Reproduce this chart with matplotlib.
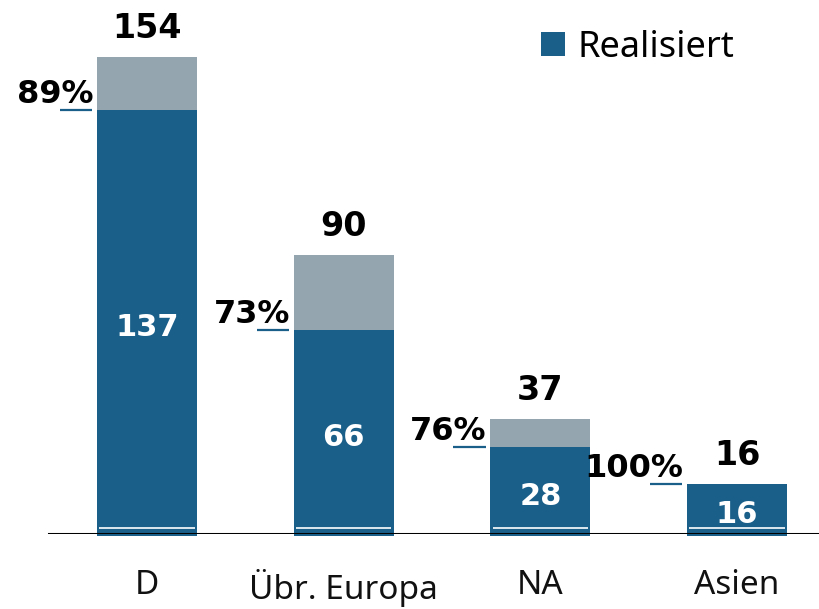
import matplotlib
matplotlib.use("Agg")
import matplotlib.pyplot as plt

regions = ["D", "Übr. Europa", "NA", "Asien"]
total = [154, 90, 37, 16]
realised = [137, 66, 28, 16]
share = ["89%", "73%", "76%", "100%"]

blue = "#1a5f8a"
grey = "#94a5af"
num_font = "DejaVu Sans"

fig = plt.figure(figsize=(8.2, 6.09), dpi=100)
ax = fig.add_axes([0, 75 / 609, 1, 534 / 609])

x = list(range(len(regions)))
w = 0.508
sink = 0.6  # bars poke a little below the baseline

ax.bar(x, [t + sink for t in total], w, bottom=-sink, color=grey, clip_on=False, zorder=2)
ax.bar(x, [r + sink for r in realised], w, bottom=-sink, color=blue, clip_on=False,
       zorder=3, label="Realisiert")

# thin white line near the foot of each bar
ax.hlines([2.0] * len(x), [i - w / 2 + 0.012 for i in x], [i + w / 2 - 0.012 for i in x],
          color="white", lw=1.2, zorder=4)

ax.axhline(0, xmin=49 / 820, xmax=1, color="black", lw=2.2, zorder=5)

for i in x:
    # total on top
    ax.annotate(str(total[i]), (i, total[i]), xytext=(0, 14), textcoords="offset points",
                ha="center", va="baseline", fontsize=24, fontweight="bold",
                family=num_font, color="black")
    # realised value inside
    ax.annotate(str(realised[i]), (i, realised[i] / 2), xytext=(0, -4),
                textcoords="offset points", ha="center", va="center",
                fontsize=22, fontweight="bold", family=num_font, color="white", zorder=6)
    # share label left of the bar with small underline
    left = i - w / 2
    ax.plot([left - 0.188, left - 0.025], [realised[i], realised[i]],
            color=blue, lw=1.6, solid_capstyle="butt", zorder=4)
    ax.annotate(share[i], (left - 0.02, realised[i]), xytext=(0, 5),
                textcoords="offset points", ha="right", va="baseline",
                fontsize=23, fontweight="bold", family=num_font, color="black")

ax.set_xlim(-147 / 196.7, (820 - 147) / 196.7)
ax.set_ylim(0, 534 / 3.0974)

ax.set_xticks(x)
ax.set_xticklabels(regions, fontsize=24, family="Noto Sans", color="#111111")
ax.tick_params(axis="x", length=0, pad=25)
ax.set_yticks([])
for s in ax.spines.values():
    s.set_visible(False)

ax.legend(loc="upper left", bbox_to_anchor=(541 / 820, 1 - 30 / 609),
          bbox_transform=fig.transFigure, frameon=False,
          prop={"family": "Noto Sans", "size": 26},
          handlelength=0.66, handleheight=0.66, handletextpad=0.35,
          borderpad=0, borderaxespad=0)

fig.savefig("out.png", dpi=100)
